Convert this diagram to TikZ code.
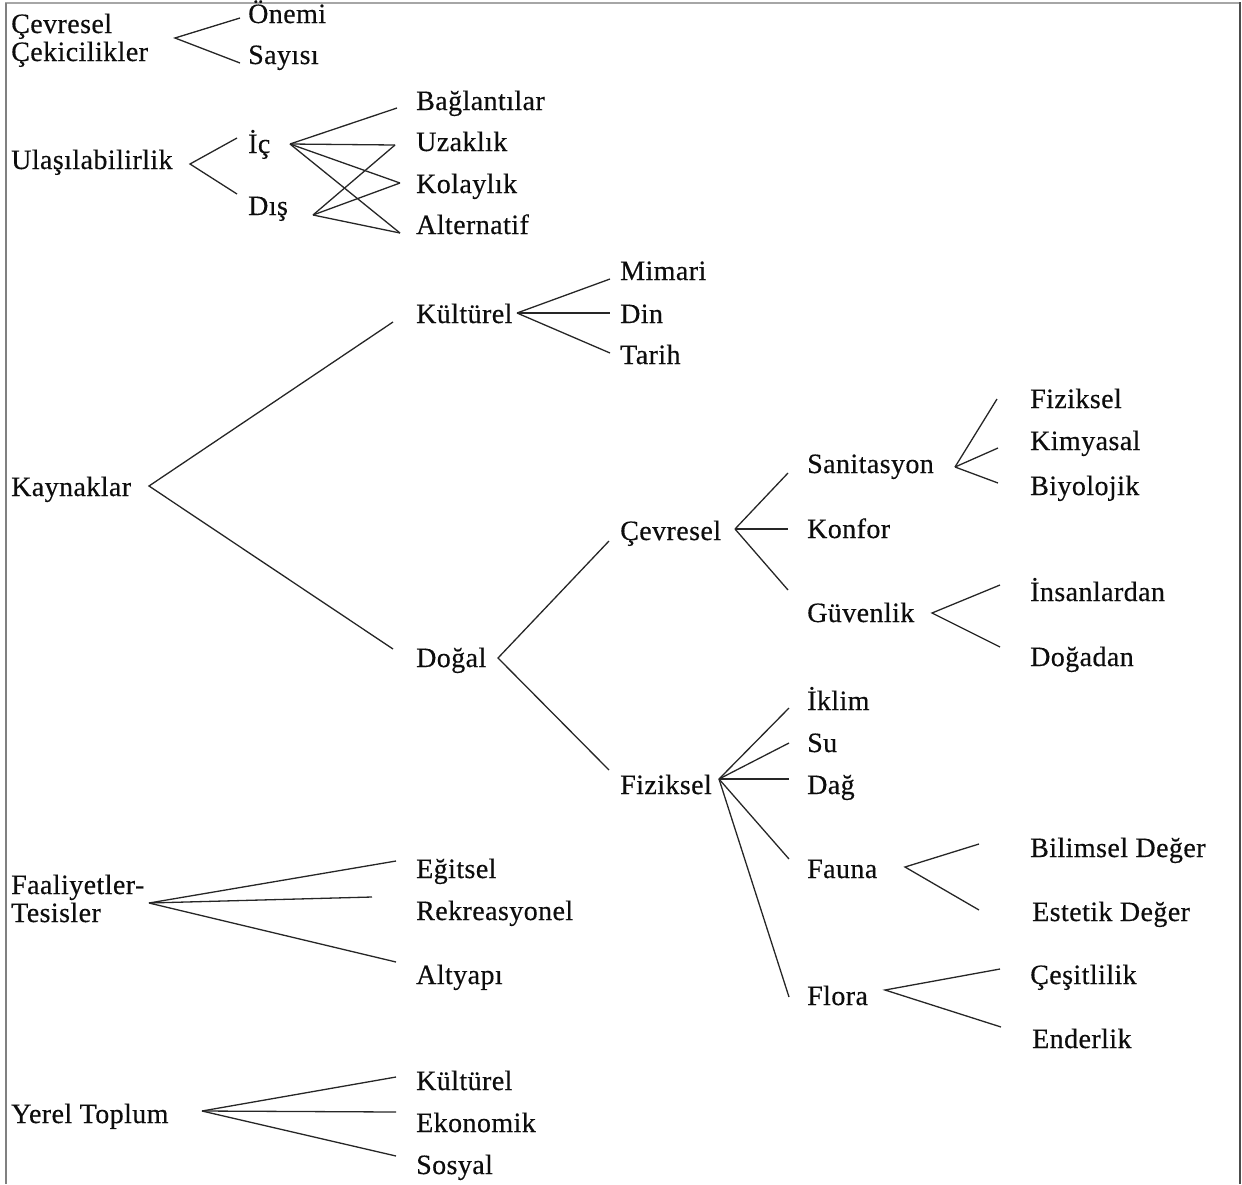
\documentclass[tikz,border=0pt]{standalone}
\usepackage{fontspec}
\setmainfont[FakeBold=0.4,LetterSpace=1.5]{Liberation Serif}
\begin{document}
\begin{tikzpicture}[x=1pt,y=-1pt,
  lbl/.style={anchor=base west, inner sep=0pt, font=\fontsize{28}{30}\selectfont, text=black!95},
  br/.style={line width=1.3pt, draw=black!85}]
\useasboundingbox (0,0) rectangle (1242,1184);
% frame
\draw[black!35, line width=2pt] (5,3) -- (1240,3);
\draw[black!50, line width=1.6pt] (6,3) -- (6,1184);
\draw[black!70, line width=2pt] (1240,2) -- (1240,1184);

% ---- labels ----
\node[lbl] (cev) at (11,33) {Çevresel};
\node[lbl] (cek) at (11,61) {Çekicilikler};
\node[lbl] (onemi) at (248,23) {Önemi};
\node[lbl] (sayisi) at (248,64) {Sayısı};

\node[lbl] (ula) at (11,169) {Ulaşılabilirlik};
\node[lbl] (ic) at (248,153) {İç};
\node[lbl] (dis) at (248,215) {Dış};
\node[lbl] (bag) at (416,110) {Bağlantılar};
\node[lbl] (uza) at (416,151) {Uzaklık};
\node[lbl] (kol) at (416,193) {Kolaylık};
\node[lbl] (alt) at (416,234) {Alternatif};

\node[lbl] (kay) at (11,496) {Kaynaklar};
\node[lbl] (kul) at (416,323) {Kültürel};
\node[lbl] (dog) at (416,667) {Doğal};
\node[lbl] (mim) at (620,280) {Mimari};
\node[lbl] (din) at (620,323) {Din};
\node[lbl] (tar) at (620,364) {Tarih};
\node[lbl] (cevm) at (620,540) {Çevresel};
\node[lbl] (fiz) at (620,794) {Fiziksel};
\node[lbl] (san) at (807,473) {Sanitasyon};
\node[lbl] (kon) at (807,538) {Konfor};
\node[lbl] (guv) at (807,622) {Güvenlik};
\node[lbl] (fizr) at (1030,408) {Fiziksel};
\node[lbl] (kim) at (1030,450) {Kimyasal};
\node[lbl] (biy) at (1030,495) {Biyolojik};
\node[lbl] (ins) at (1030,601) {İnsanlardan};
\node[lbl] (doga) at (1030,666) {Doğadan};
\node[lbl] (ikl) at (807,710) {İklim};
\node[lbl] (su) at (807,752) {Su};
\node[lbl] (dag) at (807,794) {Dağ};
\node[lbl] (fau) at (807,878) {Fauna};
\node[lbl] (flo) at (807,1005) {Flora};
\node[lbl] (bil) at (1030,857) {Bilimsel Değer};
\node[lbl] (est) at (1032,921) {Estetik Değer};
\node[lbl] (ces) at (1030,984) {Çeşitlilik};
\node[lbl] (end) at (1032,1048) {Enderlik};

\node[lbl] (faa) at (11,894) {Faaliyetler-};
\node[lbl] (tes) at (11,922) {Tesisler};
\node[lbl] (egi) at (416,878) {Eğitsel};
\node[lbl] (rek) at (416,920) {Rekreasyonel};
\node[lbl] (alty) at (416,984) {Altyapı};

\node[lbl] (yer) at (11,1123) {Yerel Toplum};
\node[lbl] (kulb) at (416,1090) {Kültürel};
\node[lbl] (eko) at (416,1132) {Ekonomik};
\node[lbl] (sos) at (416,1174) {Sosyal};

% ---- branch points and line ends ----
\coordinate (cev-o) at (175,38);
\coordinate (onemi-i) at (240,18);
\coordinate (sayisi-i) at (240,63);
\coordinate (ula-o) at (190,164);
\coordinate (ic-i) at (237,138);
\coordinate (dis-i) at (237,194);
\coordinate (ic-o) at (290,144);
\coordinate (dis-o) at (313,215);
\coordinate (bag-i) at (397,108);
\coordinate (uza-i) at (395,145);
\coordinate (kol-i) at (400,183);
\coordinate (alt-i) at (400,233);
\coordinate (kay-o) at (149,486);
\coordinate (kul-i) at (393,322);
\coordinate (dog-i) at (393,649);
\coordinate (kul-o) at (517,313);
\coordinate (mim-i) at (610,279);
\coordinate (din-i) at (610,313);
\coordinate (tar-i) at (610,353);
\coordinate (dog-o) at (498,658);
\coordinate (cevm-i) at (609,541);
\coordinate (fiz-i) at (609,770);
\coordinate (cevm-o) at (735,529);
\coordinate (san-i) at (788,473);
\coordinate (kon-i) at (788,529);
\coordinate (guv-i) at (788,590);
\coordinate (san-o) at (955,467);
\coordinate (fizr-i) at (997,399);
\coordinate (kim-i) at (998,448);
\coordinate (biy-i) at (998,483);
\coordinate (guv-o) at (932,613);
\coordinate (ins-i) at (1000,585);
\coordinate (doga-i) at (1000,647);
\coordinate (fiz-o) at (719,779);
\coordinate (ikl-i) at (789,708);
\coordinate (su-i) at (789,743);
\coordinate (dag-i) at (789,779);
\coordinate (fau-i) at (789,859);
\coordinate (flo-i) at (789,997);
\coordinate (fau-o) at (905,867);
\coordinate (bil-i) at (979,844);
\coordinate (est-i) at (979,910);
\coordinate (flo-o) at (885,990);
\coordinate (ces-i) at (1000,969);
\coordinate (end-i) at (1001,1027);
\coordinate (faa-o) at (149,903);
\coordinate (egi-i) at (396,861);
\coordinate (rek-i) at (372,897);
\coordinate (alty-i) at (396,962);
\coordinate (yer-o) at (202,1111);
\coordinate (kulb-i) at (396,1077);
\coordinate (eko-i) at (396,1112);
\coordinate (sos-i) at (396,1156);

% ---- connectors ----
\draw[br] (onemi-i) -- (cev-o) -- (sayisi-i);
\draw[br] (ic-i) -- (ula-o) -- (dis-i);
\draw[br] (ic-o) -- (bag-i);
\draw[br] (ic-o) -- (uza-i);
\draw[br] (ic-o) -- (kol-i);
\draw[br] (ic-o) -- (alt-i);
\draw[br] (dis-o) -- (uza-i);
\draw[br] (dis-o) -- (kol-i);
\draw[br] (dis-o) -- (alt-i);
\draw[br] (kul-i) -- (kay-o) -- (dog-i);
\draw[br] (kul-o) -- (mim-i);
\draw[br] (kul-o) -- (din-i);
\draw[br] (kul-o) -- (tar-i);
\draw[br] (cevm-i) -- (dog-o) -- (fiz-i);
\draw[br] (cevm-o) -- (san-i);
\draw[br] (cevm-o) -- (kon-i);
\draw[br] (cevm-o) -- (guv-i);
\draw[br] (san-o) -- (fizr-i);
\draw[br] (san-o) -- (kim-i);
\draw[br] (san-o) -- (biy-i);
\draw[br] (ins-i) -- (guv-o) -- (doga-i);
\draw[br] (fiz-o) -- (ikl-i);
\draw[br] (fiz-o) -- (su-i);
\draw[br] (fiz-o) -- (dag-i);
\draw[br] (fiz-o) -- (fau-i);
\draw[br] (fiz-o) -- (flo-i);
\draw[br] (bil-i) -- (fau-o) -- (est-i);
\draw[br] (ces-i) -- (flo-o) -- (end-i);
\draw[br] (faa-o) -- (egi-i);
\draw[br] (faa-o) -- (rek-i);
\draw[br] (faa-o) -- (alty-i);
\draw[br] (yer-o) -- (kulb-i);
\draw[br] (yer-o) -- (eko-i);
\draw[br] (yer-o) -- (sos-i);
\end{tikzpicture}
\end{document}
